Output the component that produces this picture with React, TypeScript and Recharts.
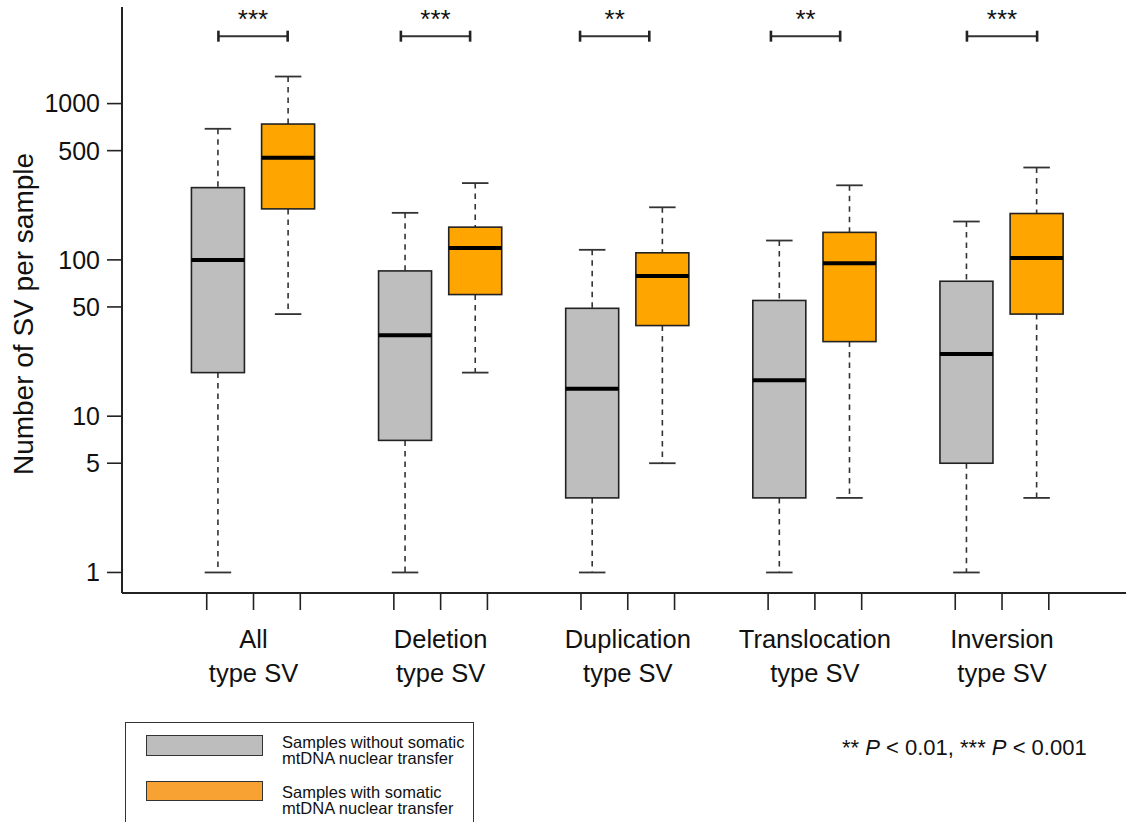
import { ComposedChart, Bar, Line, Scatter, XAxis, YAxis } from 'recharts'

const categories = ['All', 'Deletion', 'Duplication', 'Translocation', 'Inversion']
const groupCenters = [2, 6, 10, 14, 18]
const xTicks = [1, 2, 3, 5, 6, 7, 9, 10, 11, 13, 14, 15, 17, 18, 19]
const yTicks = [1, 5, 10, 50, 100, 500, 1000]

// [min, q1, median, q3, max] per category
const withoutTransfer = [
  [1, 19, 100, 290, 690],
  [1, 7, 33, 85, 200],
  [1, 3, 15, 49, 116],
  [1, 3, 17, 55, 133],
  [1, 5, 25, 73, 176],
]
const withTransfer = [
  [45, 212, 450, 740, 1490],
  [19, 60, 119, 162, 310],
  [5, 38, 79, 111, 217],
  [3, 30, 95, 150, 300],
  [3, 45, 103, 198, 390],
]

const significance = ['***', '***', '**', '**', '***']
const bracketStart = [1.25, 5.15, 8.98, 13.06, 17.25]
const bracketEnd = [2.73, 6.63, 10.46, 14.54, 18.75]
const BRACKET_LEVEL = 2700

const GRAY = '#bebebe'
const ORANGE = '#ffa500'
const INK = '#222'
const FONT = '"Liberation Sans", Arial, Helvetica, sans-serif'
const BOX_W = 53

const boxRows = categories.flatMap((c, i) => [
  { x: groupCenters[i] - 0.76, stats: withoutTransfer[i], fill: GRAY, cat: c },
  { x: groupCenters[i] + 0.74, stats: withTransfer[i], fill: ORANGE, cat: c },
])

const starRows = significance.map((s, i) => ({
  x: (bracketStart[i] + bracketEnd[i]) / 2,
  y: BRACKET_LEVEL,
  stars: s,
}))

const whiskerRange = (d: any) => (d && d.stats ? [d.stats[0], d.stats[4]] : null)

function BoxShape(props: any) {
  const { x, y, width, height, payload } = props
  if (!payload || !payload.stats) return null
  const [mn, q1, med, q3, mx] = payload.stats
  const cx = x + width / 2
  const top = Math.min(y, y + height)
  const bottom = Math.max(y, y + height)
  const span = Math.log(mx) - Math.log(mn)
  const py = (v: number) => top + ((bottom - top) * (Math.log(mx) - Math.log(v))) / span
  const half = BOX_W / 2
  const cap = BOX_W / 4
  return (
    <g>
      <line x1={cx} x2={cx} y1={py(mx)} y2={py(q3)} stroke="#333" strokeWidth={1.6} strokeDasharray="5.5 5" />
      <line x1={cx} x2={cx} y1={py(q1)} y2={py(mn)} stroke="#333" strokeWidth={1.6} strokeDasharray="5.5 5" />
      <line x1={cx - cap} x2={cx + cap} y1={py(mx)} y2={py(mx)} stroke="#333" strokeWidth={1.8} />
      <line x1={cx - cap} x2={cx + cap} y1={py(mn)} y2={py(mn)} stroke="#333" strokeWidth={1.8} />
      <rect x={cx - half} y={py(q3)} width={BOX_W} height={py(q1) - py(q3)} fill={payload.fill} stroke="#222" strokeWidth={1.6} />
      <line x1={cx - half} x2={cx + half} y1={py(med)} y2={py(med)} stroke="#000" strokeWidth={4} />
    </g>
  )
}

function CategoryTick(props: any) {
  const { x, y, payload } = props
  const i = groupCenters.indexOf(payload?.value)
  if (i < 0) return <g />
  return (
    <text x={x} y={y} textAnchor="middle" fontSize={25.5} fill="#111" fontFamily={FONT}>
      <tspan x={x} dy={37.5}>{categories[i]}</tspan>
      <tspan x={x} dy={34}>type SV</tspan>
    </text>
  )
}

function StarShape(props: any) {
  const { cx, cy, payload } = props
  if (!payload) return <g />
  return (
    <text x={cx} y={cy - 8} textAnchor="middle" fontSize={26} fill="#111" fontFamily={FONT}>
      {payload.stars}
    </text>
  )
}

function Cap(props: any) {
  const { cx, cy } = props
  return <line x1={cx} x2={cx} y1={cy - 5.5} y2={cy + 5.5} stroke="#222" strokeWidth={2.6} />
}

export default function App() {
  return (
    <div style={{ position: 'absolute', left: 0, top: 0, width: 1126, height: 822, background: '#fff', fontFamily: FONT, overflow: 'hidden' }}>
      <ComposedChart width={1126} height={822} data={boxRows} margin={{ top: 7, right: 0, bottom: 0, left: 0 }}>
        <XAxis
          dataKey="x"
          type="number"
          domain={[-0.811, 20.65]}
          allowDataOverflow
          ticks={xTicks}
          interval={0}
          height={229}
          tickSize={17}
          tickMargin={0}
          axisLine={{ stroke: INK, strokeWidth: 2 }}
          tickLine={{ stroke: INK, strokeWidth: 1.6 }}
          tick={<CategoryTick />}
        />
        <YAxis
          scale="log"
          domain={[0.739, 4150]}
          allowDataOverflow
          ticks={yTicks}
          interval={0}
          width={122}
          tickSize={15}
          tickMargin={7}
          axisLine={{ stroke: INK, strokeWidth: 2 }}
          tickLine={{ stroke: INK, strokeWidth: 1.6 }}
          tick={{ fontSize: 25, fill: '#111', fontFamily: FONT }}
        />
        <Bar dataKey={whiskerRange} barSize={BOX_W} shape={<BoxShape />} isAnimationActive={false} />
        {bracketStart.map((s, i) => (
          <Line
            key={`br-${i}`}
            data={[
              { x: s, y: BRACKET_LEVEL },
              { x: bracketEnd[i], y: BRACKET_LEVEL },
            ]}
            dataKey="y"
            stroke="#333"
            strokeWidth={2}
            dot={(p: any) => <Cap {...p} key={`cap-${i}-${p.index}`} />}
            activeDot={false}
            isAnimationActive={false}
          />
        ))}
        <Scatter data={starRows} dataKey="y" shape={<StarShape />} isAnimationActive={false} />
      </ComposedChart>

      <div
        style={{
          position: 'absolute',
          left: 24,
          top: 314,
          transform: 'translate(-50%, -50%) rotate(-90deg)',
          whiteSpace: 'nowrap',
          fontSize: 28,
          color: '#111',
        }}
      >
        Number of SV per sample
      </div>

      <div
        style={{
          position: 'absolute',
          left: 125,
          top: 722,
          width: 349,
          height: 130,
          border: '1px solid #333',
          boxSizing: 'border-box',
        }}
      >
        <div style={{ position: 'absolute', left: 20, top: 12, width: 115, height: 19, background: '#bdbdbd', border: '1.5px solid #333' }} />
        <div style={{ position: 'absolute', left: 156, top: 11, fontSize: 16.5, lineHeight: '16px', color: '#111', whiteSpace: 'nowrap' }}>
          Samples without somatic
          <br />
          mtDNA nuclear transfer
        </div>
        <div style={{ position: 'absolute', left: 20, top: 58, width: 115, height: 18, background: '#f7a233', border: '1.5px solid #333' }} />
        <div style={{ position: 'absolute', left: 156, top: 61, fontSize: 16.5, lineHeight: '16px', color: '#111', whiteSpace: 'nowrap' }}>
          Samples with somatic
          <br />
          mtDNA nuclear transfer
        </div>
      </div>

      <div style={{ position: 'absolute', left: 842, top: 737, fontSize: 22, lineHeight: '22px', color: '#111', whiteSpace: 'nowrap' }}>
        ** <i>P</i> &lt; 0.01, *** <i>P</i> &lt; 0.001
      </div>
    </div>
  )
}
